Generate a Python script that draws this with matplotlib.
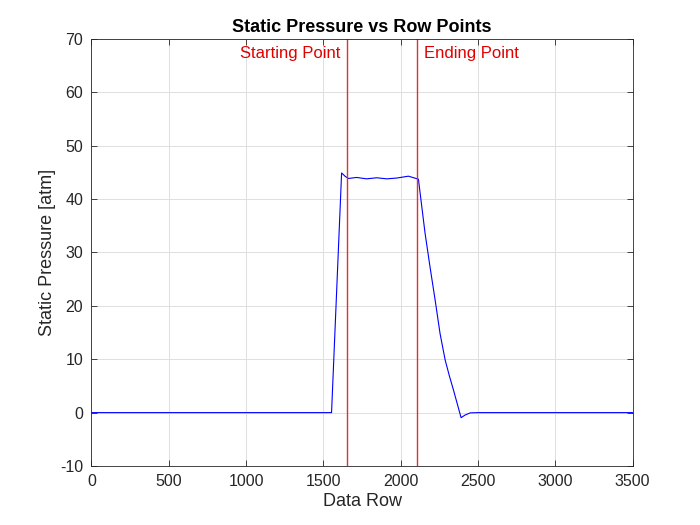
import matplotlib.pyplot as plt

plt.rcParams['font.family'] = ['Liberation Sans', 'DejaVu Sans']
plt.rcParams['axes.unicode_minus'] = False

# values
row = [0, 500, 1000, 1500, 1553, 1618, 1640, 1661, 1715, 1780, 1845, 1910, 1975,
       2050, 2093, 2115, 2135, 2158, 2190, 2223, 2255, 2288, 2315, 2342, 2391, 2417,
       2450, 2500, 3000, 3500]
pressure = [0.0, 0.0, 0.0, 0.0, 0.0, 44.9, 44.3, 43.87, 44.06, 43.8, 44.0, 43.8, 43.95,
            44.3, 43.93, 43.74, 39.0, 33.6, 27.3, 21.1, 14.8, 9.85, 6.9, 4.2, -0.95,
            -0.45, -0.05, 0.0, 0.0, 0.0]
start_row = 1653
end_row = 2105

fig = plt.figure(figsize=(7, 5.25), dpi=100)
ax = fig.add_axes([0.1307, 0.1124, 0.7729, 0.8133])

ax.plot(row, pressure, color='#0000ff', linewidth=0.8)
ax.axvline(start_row, color='#e03030', linewidth=1.0)
ax.axvline(end_row, color='#e03030', linewidth=1.0)
ax.text(start_row - 40, 67.3, 'Starting Point', color='#e00000', fontsize=12,
        ha='right', va='center')
ax.text(end_row + 45, 67.3, 'Ending Point', color='#e00000', fontsize=12,
        ha='left', va='center')

ax.set_xlim(0, 3500)
ax.set_ylim(-10, 70)
ax.set_xticks(range(0, 3501, 500))
ax.set_yticks(range(-10, 71, 10))
ax.grid(True, color='#dedede', linewidth=0.7)
ax.set_axisbelow(True)
ax.tick_params(direction='in', labelsize=11.5, length=4, width=0.6, top=True, right=True,
               labeltop=False, labelright=False, colors='#262626')
ax.tick_params(axis='x', pad=6)
ax.tick_params(axis='y', pad=6)
for s in ax.spines.values():
    s.set_linewidth(0.6)
    s.set_color('#262626')

ax.set_xlabel('Data Row', fontsize=13, labelpad=3, color='#262626')
ax.set_ylabel('Static Pressure [atm]', fontsize=13, labelpad=3, color='#262626')
ax.set_title('Static Pressure vs Row Points', fontsize=13, fontweight='bold', pad=5)

fig.savefig('out.png', dpi=100)
